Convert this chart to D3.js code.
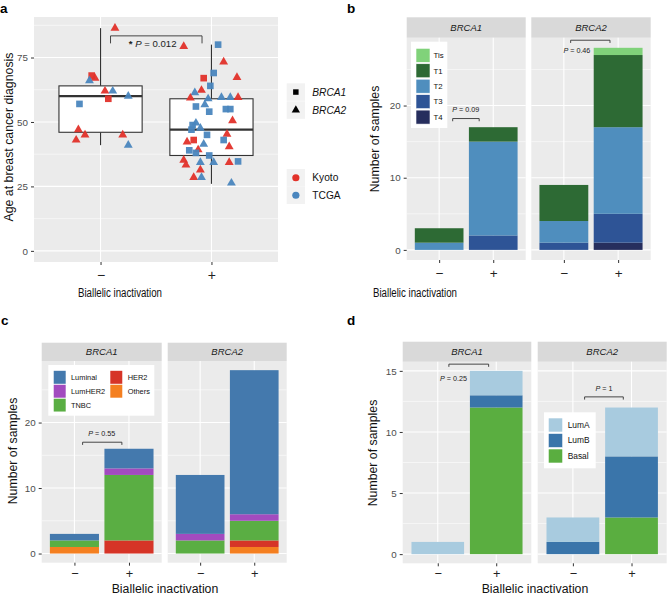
<!DOCTYPE html>
<html><head><meta charset="utf-8">
<script src="https://cdn.jsdelivr.net/npm/d3@7"></script>
<style>body{margin:0;background:#fff}svg text{font-family:"Liberation Sans",Arial,Helvetica,sans-serif}</style>
</head><body><svg id="c" width="667" height="595"></svg>
<script>
// ---------------- DATA ----------------
const groups = ["−", "+"];
const genes = ["BRCA1", "BRCA2"];
const cohorts = ["Kyoto", "TCGA"];

// Panel a: [age, gene (1=BRCA1, 2=BRCA2), cohort (K/T), jitter offset in category units]
const agesMinus = [
  [86.4,2,"K",0.13],[68,1,"K",-0.08],[67,2,"K",-0.05],[66,2,"T",-0.10],[62,2,"K",0.04],
  [62,2,"T",0.11],[59,1,"K",0.07],[60,2,"T",0.25],[57,1,"T",-0.19],[47,2,"K",-0.20],
  [45,2,"K",-0.14],[43,2,"K",-0.22],[45,2,"K",0.20],[41,2,"T",0.25]
];
const agesPlus = [
  [79.3,2,"K",-0.25],[80,1,"T",0.06],[73.3,2,"K",0.11],[69,1,"T",0.02],[67.3,2,"K",0.23],
  [67,1,"K",-0.07],[64,1,"T",-0.01],[62.3,2,"K",-0.09],[61.4,2,"T",-0.15],[59.3,2,"K",-0.19],
  [59,2,"T",-0.03],[59.5,2,"T",0.09],[59.5,2,"T",0.17],[59.5,2,"K",0.24],[56.7,2,"T",-0.06],
  [56,1,"T",-0.14],[54,1,"T",-0.02],[55,1,"T",0.13],[55,1,"T",0.17],[50.5,2,"K",0.19],
  [48.8,1,"T",-0.17],[49.6,2,"T",-0.14],[47,1,"T",-0.18],[47.6,2,"T",-0.10],[45,1,"T",-0.04],
  [45.3,2,"K",0.14],[43,1,"K",-0.16],[42.3,2,"K",-0.22],[41.4,2,"T",-0.07],[43,1,"T",0.11],
  [40.4,2,"K",0.16],[39,1,"T",-0.20],[39.2,2,"K",-0.12],[38,1,"T",-0.14],[37,1,"T",-0.02],
  [35.2,2,"K",-0.25],[33.3,2,"K",-0.23],[34.3,2,"T",-0.10],[34.3,2,"T",0.02],[34.3,2,"K",0.16],
  [34.7,1,"T",0.24],[31.4,2,"K",-0.10],[28.5,2,"K",-0.16],[28.5,2,"T",-0.09],[26.3,2,"T",0.18]
];
// box stats: [lower whisker, Q1, median, Q3, upper whisker]
const boxMinus = [41, 46, 60, 64, 86.4];
const boxPlus = [26, 37, 47, 59, 80];
const ageTicks = [0, 25, 50, 75];
const ageMinorTicks = [12.5, 37.5, 62.5, 87.5];
const pAge = "0.012";

// Panel b: T stage
const tStages = ["Tis", "T1", "T2", "T3", "T4"];
const tBRCA1Minus = [0, 2, 1, 0, 0];
const tBRCA1Plus  = [0, 2, 13, 2, 0];
const tBRCA2Minus = [0, 5, 3, 1, 0];
const tBRCA2Plus  = [1, 10, 12, 4, 1];
const pStage = ["0.09", "0.46"];

// Panel c: subtype
const subtypes = ["Luminal", "LumHER2", "TNBC", "HER2", "Others"];
const sBRCA1Minus = [1, 0, 1, 0, 1];
const sBRCA1Plus  = [3, 1, 10, 2, 0];
const sBRCA2Minus = [9, 1, 2, 0, 0];
const sBRCA2Plus  = [22, 1, 3, 1, 1];
const pSubtype = ["0.55"];

// Panel d: PAM50
const pam50 = ["LumA", "LumB", "Basal"];
const pBRCA1Minus = [1, 0, 0];
const pBRCA1Plus  = [2, 1, 12];
const pBRCA2Minus = [2, 1, 0];
const pBRCA2Plus  = [4, 5, 3];
const pPam = ["0.25", "1"];

const countTicks20 = [0, 10, 20];
const countMinor20 = [5, 15, 25];
const countTicks15 = [0, 5, 10, 15];
const countMinor15 = [2.5, 7.5, 12.5];

// ---------------- STYLE ----------------
const cohortColor = {K: "#e2322a", T: "#4a86be"};
const stageColor = {Tis: "#80d27a", T1: "#2d6a34", T2: "#4f8ebe", T3: "#2e5496", T4: "#262e5d"};
const subColor = {Luminal: "#4479ad", LumHER2: "#a24bbf", TNBC: "#5aae43", HER2: "#d63427", Others: "#f47f20"};
const pamColor = {LumA: "#a8cbdf", LumB: "#3a75aa", Basal: "#5aae40"};

const svg = d3.select("#c");

function hline(g, x0, x1, y, col, w) {
  g.append("line").attr("x1", x0).attr("x2", x1).attr("y1", y).attr("y2", y).attr("stroke", col).attr("stroke-width", w);
}
function vline(g, x, y0, y1, col, w) {
  g.append("line").attr("x1", x).attr("x2", x).attr("y1", y0).attr("y2", y1).attr("stroke", col).attr("stroke-width", w);
}
function styleAxis(sel, size, col) {
  sel.select(".domain").remove();
  sel.selectAll(".tick line").attr("stroke", "#333").attr("stroke-width", 1);
  sel.selectAll(".tick text").attr("fill", col).style("font-size", size + "px")
     .style("font-family", '"Liberation Sans",Arial,sans-serif');
}
function pText(g, x, y, value, size, anchor, star) {
  const t = g.append("text").attr("x", x).attr("y", y).attr("text-anchor", anchor || "middle")
    .style("font-size", size + "px").attr("fill", "#222");
  if (star) t.append("tspan").text("* ").style("font-weight", "bold");
  t.append("tspan").text("P").style("font-style", "italic");
  t.append("tspan").text(" = " + value);
}
function bracket(g, xa, xb, y, down) {
  g.append("path").attr("d", `M${xa},${y + down}V${y}H${xb}V${y + down}`)
    .attr("fill", "none").attr("stroke", "#333").attr("stroke-width", 0.9);
}
function yTitle(x, y, txt) {
  svg.append("text").attr("transform", `translate(${x},${y}) rotate(-90)`).attr("text-anchor", "middle")
    .style("font-size", "12.3px").attr("fill", "#111").text(txt);
}
function xTitle(x, y, txt, len) {
  const t = svg.append("text").attr("x", x).attr("y", y).attr("text-anchor", "middle")
    .style("font-size", "12.3px").attr("fill", "#111").text(txt);
  if (len) t.attr("textLength", len).attr("lengthAdjust", "spacingAndGlyphs");
}
function panelLabel(x, y, t) {
  svg.append("text").attr("x", x).attr("y", y).style("font-size", "13.5px").style("font-weight", "bold").attr("fill", "#000").text(t);
}

// ---------------- PANEL A ----------------
(function () {
  const L = {x0: 34, x1: 278, y0: 17, y1: 262};
  const g = svg.append("g");
  const allAges = agesMinus.concat(agesPlus).map(d => d[0]);
  const ymax = d3.max(allAges);
  const y = d3.scaleLinear().domain([-ymax * 0.05, ymax * 1.05]).range([L.y1, L.y0]);
  const x = d3.scalePoint().domain(groups).range([L.x0, L.x1]).padding(0.6);
  const step = x.step();
  g.append("rect").attr("x", L.x0).attr("y", L.y0).attr("width", L.x1 - L.x0).attr("height", L.y1 - L.y0).attr("fill", "#ebebeb");
  ageMinorTicks.forEach(v => hline(g, L.x0, L.x1, y(v), "#fff", 0.55));
  ageTicks.forEach(v => hline(g, L.x0, L.x1, y(v), "#fff", 1.1));
  groups.forEach(gr => vline(g, x(gr), L.y0, L.y1, "#fff", 1.1));

  // boxplots
  [[groups[0], boxMinus], [groups[1], boxPlus]].forEach(([gr, b]) => {
    const cx = x(gr), hw = step * 0.75 / 2;
    vline(g, cx, y(b[0]), y(b[1]), "#333", 1.1);
    vline(g, cx, y(b[3]), y(b[4]), "#333", 1.1);
    g.append("rect").attr("x", cx - hw).attr("y", y(b[3])).attr("width", 2 * hw).attr("height", y(b[1]) - y(b[3]))
      .attr("fill", "#fff").attr("stroke", "#333").attr("stroke-width", 1.1);
    hline(g, cx - hw, cx + hw, y(b[2]), "#333", 2.2);
  });

  const sq = d3.symbol().type(d3.symbolSquare).size(44);
  const tri = d3.symbol().type(d3.symbolTriangle).size(34);
  [[groups[0], agesMinus], [groups[1], agesPlus]].forEach(([gr, arr]) => {
    g.selectAll(null).data(arr).enter().append("path")
      .attr("d", d => d[1] === 1 ? sq() : tri())
      .attr("transform", d => `translate(${x(gr) + d[3] * step},${y(d[0])})`)
      .attr("fill", d => cohortColor[d[2]]).attr("fill-opacity", 0.95);
  });

  // significance
  const xa = x(groups[0]) + 0.09 * step, xb = x(groups[1]) - 0.085 * step;
  bracket(g, xa, xb, y(83.4), 7.5);
  pText(g, x(groups[0]) + 0.47 * step, y(80.6) + 3.5, pAge, 9.6, "middle", true);

  const ya = g.append("g").attr("transform", `translate(${L.x0},0)`).call(d3.axisLeft(y).tickValues(ageTicks).tickSize(3).tickPadding(3));
  styleAxis(ya, 9.8, "#4d4d4d");
  const xa2 = g.append("g").attr("transform", `translate(0,${L.y1})`).call(d3.axisBottom(x).tickSize(3).tickPadding(5));
  styleAxis(xa2, 14, "#222");

  // legend
  const lg = svg.append("g");
  const keyX = 286.7, keyW = 18.3, keyH = 17.5;
  const shapeRows = [{lab: "BRCA1", y: 83.3, s: sq}, {lab: "BRCA2", y: 101.3, s: tri}];
  shapeRows.forEach(r => {
    lg.append("rect").attr("x", keyX).attr("y", r.y).attr("width", keyW).attr("height", keyH).attr("fill", "#f2f2f2");
    lg.append("path").attr("d", r.s === sq ? d3.symbol().type(d3.symbolSquare).size(30)() : d3.symbol().type(d3.symbolTriangle).size(30)())
      .attr("transform", `translate(${keyX + keyW / 2},${r.y + keyH / 2})`).attr("fill", "#000");
    lg.append("text").attr("x", 312.3).attr("y", r.y + keyH / 2 + 3.6).style("font-size", "10.2px").style("font-style", "italic").attr("fill", "#111").text(r.lab);
  });
  cohorts.forEach((c, i) => {
    const yy = 169 + i * 17.5;
    lg.append("rect").attr("x", keyX).attr("y", yy).attr("width", keyW).attr("height", keyH).attr("fill", "#f2f2f2");
    lg.append("circle").attr("cx", keyX + keyW / 2).attr("cy", yy + keyH / 2).attr("r", 3.6).attr("fill", cohortColor[c[0]]);
    lg.append("text").attr("x", 312.3).attr("y", yy + keyH / 2 + 3.6).style("font-size", "10.2px").attr("fill", "#111").text(c);
  });
  yTitle(13, 137, "Age at breast cancer diagnosis");
  xTitle(120, 296.5, "Biallelic inactivation", 84);
  panelLabel(0, 12.5, "a");
})();

// ---------------- BAR PANELS ----------------
function barPanel(cfg) {
  const y = d3.scaleLinear().domain([-cfg.max * 0.05, cfg.max * 1.05]).range([cfg.y1, cfg.y0]);
  const g = svg.append("g");
  cfg.facets.forEach((f, i) => {
    const gene = genes[i];
    const x = d3.scalePoint().domain(groups).range([f[0], f[1]]).padding(0.6);
    const step = x.step();
    g.append("rect").attr("x", f[0]).attr("y", cfg.y0).attr("width", f[1] - f[0]).attr("height", cfg.y1 - cfg.y0).attr("fill", "#ebebeb");
    g.append("rect").attr("x", f[0]).attr("y", cfg.strip[0]).attr("width", f[1] - f[0]).attr("height", cfg.strip[1] - cfg.strip[0]).attr("fill", "#d9d9d9");
    g.append("text").attr("x", (f[0] + f[1]) / 2).attr("y", (cfg.strip[0] + cfg.strip[1]) / 2 + 3.4).attr("text-anchor", "middle")
      .style("font-size", "9.5px").style("font-style", "italic").attr("fill", "#1a1a1a").text(gene);
    cfg.minor.forEach(v => hline(g, f[0], f[1], y(v), "#fff", 0.55));
    cfg.breaks.forEach(v => hline(g, f[0], f[1], y(v), "#fff", 1.1));
    groups.forEach(gr => vline(g, x(gr), cfg.y0, cfg.y1, "#fff", 1.1));

    const rows = groups.map(gr => {
      const o = {group: gr};
      cfg.keys.forEach((k, j) => o[k] = cfg.counts[gene][gr][j]);
      return o;
    });
    const series = d3.stack().keys(cfg.stackKeys)(rows);
    const bw = step * 0.9;
    series.forEach(s => {
      g.selectAll(null).data(s.filter(d => d[1] > d[0])).enter().append("rect")
        .attr("x", d => x(d.data.group) - bw / 2).attr("width", bw)
        .attr("y", d => y(d[1])).attr("height", d => y(d[0]) - y(d[1]))
        .attr("fill", cfg.colors[s.key]);
    });

    (cfg.annot || []).filter(a => a.facet === i).forEach(a => {
      const x0 = x(groups[0]);
      bracket(g, x0 + a.from * step, x0 + a.to * step, y(a.y), 2.7);
      pText(g, x0 + a.tx * step, y(a.ty) + 2.5, a.text, 7.2, "middle");
    });

    const xa = g.append("g").attr("transform", `translate(0,${cfg.y1})`).call(d3.axisBottom(x).tickSize(3).tickPadding(cfg.xPad));
    styleAxis(xa, cfg.xFs, "#222");
  });
  const ya = g.append("g").attr("transform", `translate(${cfg.facets[0][0]},0)`).call(d3.axisLeft(y).tickValues(cfg.breaks).tickSize(3).tickPadding(3));
  styleAxis(ya, 9.8, "#4d4d4d");

  // legend
  const Lg = cfg.legend;
  g.append("rect").attr("x", Lg.x).attr("y", Lg.y).attr("width", Lg.w).attr("height", Lg.h).attr("fill", "#fff");
  Lg.items.forEach((k, j) => {
    const col = Math.floor(j / Lg.rows), row = j % Lg.rows;
    const kx = Lg.kx + col * Lg.colStep, ky = Lg.ky + row * Lg.rowStep;
    g.append("rect").attr("x", kx).attr("y", ky).attr("width", Lg.kw).attr("height", Lg.kh).attr("fill", cfg.colors[k])
      .attr("stroke", "#fff").attr("stroke-width", 0.6);
    g.append("text").attr("x", kx + Lg.kw + Lg.gap).attr("y", ky + Lg.kh / 2 + 2.8).style("font-size", Lg.fs + "px").attr("fill", "#111").text(k);
  });
}

barPanel({
  facets: [[406.7, 525.7], [531.3, 650.7]], strip: [17.3, 37.7], y0: 37.7, y1: 260,
  max: d3.max([tBRCA1Minus, tBRCA1Plus, tBRCA2Minus, tBRCA2Plus], a => d3.sum(a)),
  breaks: countTicks20, minor: countMinor20, keys: tStages, stackKeys: tStages.slice().reverse(),
  colors: stageColor, xPad: 5, xFs: 13.5,
  counts: {BRCA1: {"−": tBRCA1Minus, "+": tBRCA1Plus}, BRCA2: {"−": tBRCA2Minus, "+": tBRCA2Plus}},
  annot: [{facet: 0, from: 0.25, to: 0.74, y: 18.2, tx: 0.49, ty: 19.4, text: pStage[0]},
          {facet: 1, from: 0.125, to: 0.85, y: 29.05, tx: 0.24, ty: 27.6, text: pStage[1]}],
  legend: {x: 411, y: 41.7, w: 36.3, h: 86.3, kx: 416, ky: 48.3, kw: 14, kh: 14, rows: 5, colStep: 0, rowStep: 15.45, gap: 3.5, fs: 7.8, items: tStages}
});
yTitle(379, 139, "Number of samples");
xTitle(415, 296.5, "Biallelic inactivation", 84);
panelLabel(347, 12.5, "b");

barPanel({
  facets: [[41.7, 161.7], [167.7, 286.7]], strip: [342.7, 361], y0: 361, y1: 562.7,
  max: d3.max([sBRCA1Minus, sBRCA1Plus, sBRCA2Minus, sBRCA2Plus], a => d3.sum(a)),
  breaks: countTicks20, minor: countMinor20, keys: subtypes, stackKeys: subtypes.slice().reverse(),
  colors: subColor, xPad: 3, xFs: 12.8,
  counts: {BRCA1: {"−": sBRCA1Minus, "+": sBRCA1Plus}, BRCA2: {"−": sBRCA2Minus, "+": sBRCA2Plus}},
  annot: [{facet: 0, from: 0.15, to: 0.87, y: 17.0, tx: 0.5, ty: 18.3, text: pSubtype[0]}],
  legend: {x: 48.3, y: 365, w: 106, h: 50.7, kx: 53.3, ky: 370.5, kw: 12.7, kh: 13.6, rows: 3, colStep: 56.7, rowStep: 13.9, gap: 5, fs: 7.4, items: subtypes}
});
yTitle(17, 451, "Number of samples");
xTitle(165, 592.5, "Biallelic inactivation");
panelLabel(1, 325, "c");

barPanel({
  facets: [[402.7, 531.3], [537.7, 666.7]], strip: [341.7, 361.7], y0: 361.7, y1: 563.3,
  max: d3.max([pBRCA1Minus, pBRCA1Plus, pBRCA2Minus, pBRCA2Plus], a => d3.sum(a)),
  breaks: countTicks15, minor: countMinor15, keys: pam50, stackKeys: pam50.slice().reverse(),
  colors: pamColor, xPad: 2.5, xFs: 12.8,
  counts: {BRCA1: {"−": pBRCA1Minus, "+": pBRCA1Plus}, BRCA2: {"−": pBRCA2Minus, "+": pBRCA2Plus}},
  annot: [{facet: 0, from: 0.19, to: 0.87, y: 15.55, tx: 0.27, ty: 14.4, text: pPam[0]},
          {facet: 1, from: 0.2, to: 0.86, y: 12.87, tx: 0.53, ty: 13.55, text: pPam[1]}],
  legend: {x: 544, y: 412.3, w: 51.7, h: 56, kx: 548.3, ky: 418, kw: 14.4, kh: 14, rows: 3, colStep: 0, rowStep: 15.5, gap: 5, fs: 8.4, items: pam50}
});
yTitle(376.5, 453, "Number of samples");
xTitle(535, 592.5, "Biallelic inactivation");
panelLabel(347, 325, "d");
</script></body></html>
